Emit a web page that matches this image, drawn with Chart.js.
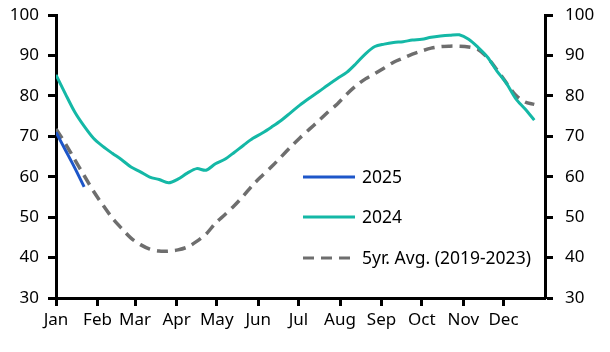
<!DOCTYPE html>
<html>
<head>
<meta charset="utf-8">
<script src="https://cdn.jsdelivr.net/npm/chart.js@4/dist/chart.umd.min.js"></script>
<style>
  html, body { margin: 0; padding: 0; background: #fff; }
  canvas { display: block; }
</style>
</head>
<body>
<canvas id="grafico" width="610" height="352"></canvas>
<script>
// Meses e dia do ano em que cada um começa
const meses = ['Jan', 'Feb', 'Mar', 'Apr', 'May', 'Jun', 'Jul', 'Aug', 'Sep', 'Oct', 'Nov', 'Dec'];
const inicioMes = [0, 31, 59, 90, 120, 151, 181, 212, 243, 273, 304, 334];

// Dias (semanais) e valores de cada série
const dias2025 = [0, 7, 14, 21];
const valores2025 = [71.0, 66.6, 62.2, 57.5];

const diasSemana = [0, 7, 14, 21, 28, 35, 42, 49, 56, 63, 70, 77, 84, 91, 98, 105, 112, 119, 126,
  133, 140, 147, 154, 161, 168, 175, 182, 189, 196, 203, 210, 217, 224, 231, 238, 245, 252, 259,
  266, 273, 280, 287, 294, 301, 308, 315, 322, 329, 336, 343, 350, 357];

const valores2024 = [85.2, 80.5, 76.0, 72.5, 69.5, 67.5, 65.8, 64.2, 62.4, 61.2, 59.9, 59.3, 58.5,
  59.4, 60.9, 62.0, 61.6, 63.2, 64.3, 66.0, 67.8, 69.5, 70.8, 72.3, 73.9, 75.8, 77.7, 79.4, 81.0,
  82.7, 84.3, 85.8, 88.0, 90.4, 92.2, 92.8, 93.2, 93.4, 93.8, 94.0, 94.5, 94.8, 95.0, 95.1, 94.0,
  92.0, 89.6, 86.2, 83.2, 79.4, 76.8, 74.0];

const valoresMedia = [71.8, 68.2, 64.2, 60.3, 56.4, 53.0, 49.8, 47.2, 44.8, 43.2, 42.1, 41.6, 41.6,
  41.9, 42.6, 44.0, 45.8, 48.5, 50.6, 52.8, 55.3, 58.0, 60.3, 62.5, 64.9, 67.3, 69.6, 71.7, 73.8,
  76.0, 78.0, 80.4, 82.5, 84.2, 85.5, 86.9, 88.3, 89.3, 90.3, 91.1, 91.8, 92.2, 92.3, 92.3, 92.1,
  91.5, 89.5, 86.5, 83.3, 80.2, 78.5, 77.9];

const rotulos = ['2025', '2024', '5yr. Avg. (2019-2023)'];
const ticksY = [30, 40, 50, 60, 70, 80, 90, 100];

const pontos = (dias, valores) => dias.map((d, i) => ({ x: d, y: valores[i] }));

const fonte = { family: 'Noto Sans', size: 17 };

// Legenda desenhada dentro da área do gráfico
const legendaInterna = {
  id: 'legendaInterna',
  afterDraw(chart) {
    const ctx = chart.ctx;
    const linhasY = [177, 217, 258];
    chart.data.datasets.forEach((ds, i) => {
      const y = linhasY[i];
      ctx.save();
      ctx.strokeStyle = ds.borderColor;
      ctx.lineWidth = 3;
      ctx.setLineDash(ds.borderDash || []);
      ctx.beginPath();
      ctx.moveTo(303, y);
      ctx.lineTo(355, y);
      ctx.stroke();
      ctx.setLineDash([]);
      ctx.fillStyle = '#000';
      ctx.font = '17.5px "Noto Sans"';
      ctx.textBaseline = 'middle';
      ctx.fillText(ds.label, 362, y + 1);
      ctx.restore();
    });
  }
};

const eixoY = (posicao, largura, espaco) => ({
  type: 'linear',
  position: posicao,
  min: 30,
  max: 100,
  afterBuildTicks: s => { s.ticks = ticksY.map(v => ({ value: v })); },
  afterFit: s => { s.width = largura; s.paddingTop = 0; s.paddingBottom = 0; },
  border: { display: true, color: '#000', width: 3 },
  grid: { drawOnChartArea: false, drawTicks: true, tickLength: 8, tickWidth: 3, tickColor: '#000' },
  ticks: { color: '#000', font: fonte, padding: espaco }
});

const config = {
  type: 'line',
  data: {
    datasets: [
      {
        label: rotulos[0],
        data: pontos(dias2025, valores2025),
        borderColor: '#1d56c9',
        borderWidth: 3,
        pointRadius: 0,
        tension: 0.3
      },
      {
        label: rotulos[1],
        data: pontos(diasSemana, valores2024),
        borderColor: '#14b8a6',
        borderWidth: 3,
        pointRadius: 0,
        tension: 0.3
      },
      {
        label: rotulos[2],
        data: pontos(diasSemana, valoresMedia),
        borderColor: '#6e6e6e',
        borderWidth: 3.5,
        borderDash: [11, 7],
        pointRadius: 0,
        tension: 0.3
      }
    ]
  },
  options: {
    responsive: false,
    animation: false,
    layout: { padding: { top: 15, left: 0, right: 0, bottom: 0 } },
    plugins: { legend: { display: false }, tooltip: { enabled: false } },
    scales: {
      x: {
        type: 'linear',
        min: 0,
        max: 365,
        afterBuildTicks: s => { s.ticks = inicioMes.map(v => ({ value: v })); },
        afterFit: s => { s.height = 54; s.paddingLeft = 0; s.paddingRight = 0; },
        border: { display: true, color: '#000', width: 3 },
        grid: { drawOnChartArea: false, drawTicks: true, tickLength: 8, tickWidth: 3, tickColor: '#000' },
        ticks: {
          color: '#000',
          font: fonte,
          padding: 4,
          maxRotation: 0,
          autoSkip: false,
          callback: v => meses[inicioMes.indexOf(v)]
        }
      },
      y: eixoY('left', 56, 9),
      y2: eixoY('right', 65, 12)
    }
  },
  plugins: [legendaInterna]
};

new Chart(document.getElementById('grafico').getContext('2d'), config);
</script>
</body>
</html>
